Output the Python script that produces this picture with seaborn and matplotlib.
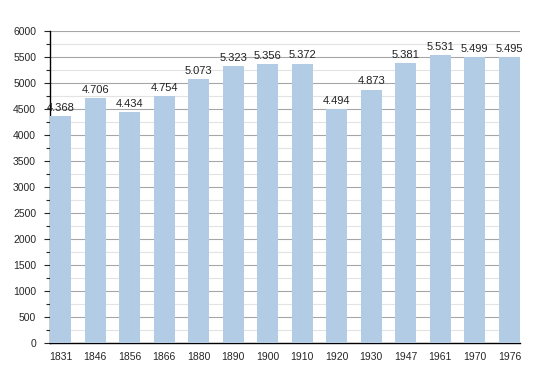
import matplotlib.pyplot as plt
import seaborn as sns
import pandas as pd
from matplotlib.ticker import MultipleLocator

years = ["1831", "1846", "1856", "1866", "1880", "1890", "1900",
         "1910", "1920", "1930", "1947", "1961", "1970", "1976"]
population = [4368, 4706, 4434, 4754, 5073, 5323, 5356,
              5372, 4494, 4873, 5381, 5531, 5499, 5495]

df = pd.DataFrame({"year": years, "pop": population})

sns.set_style("white")
plt.rcParams['font.family'] = ['Liberation Sans', 'DejaVu Sans']

fig = plt.figure(figsize=(5.5, 3.73), dpi=100)
ax = fig.add_axes([0.0909, 0.0804, 0.854, 0.8366])

sns.barplot(data=df, x="year", y="pop", color="#b3cce6", saturation=1,
            width=0.6, linewidth=0, ax=ax, zorder=3)

ax.set_xlim(-0.31, 13.3)
ax.set_ylim(0, 6000)
ax.yaxis.set_major_locator(MultipleLocator(500))
ax.yaxis.set_minor_locator(MultipleLocator(250))
ax.grid(which="major", axis="y", color="#a6a6a6", linewidth=0.8, zorder=0)
ax.grid(which="minor", axis="y", color="#e3e3e3", linewidth=0.8, zorder=0)
ax.set_axisbelow(True)

for s in ["top", "right"]:
    ax.spines[s].set_visible(False)
ax.spines["left"].set_color("black")
ax.spines["bottom"].set_color("black")
ax.spines["left"].set_linewidth(1)
ax.spines["bottom"].set_linewidth(1)

ax.tick_params(axis="y", which="major", left=True, length=4, width=0.8,
               labelsize=7.5, pad=6)
ax.tick_params(axis="y", which="minor", left=True, length=3, width=0.8)
ax.tick_params(axis="x", bottom=False, labelsize=7.5, pad=3)
ax.set_xlabel("")
ax.set_ylabel("")

for i, v in enumerate(population):
    ax.text(i, v + 60, f"{v:,}".replace(",", "."), ha="center", va="bottom",
            fontsize=8, color="#222222", zorder=4)

plt.savefig("out.png", dpi=100)
